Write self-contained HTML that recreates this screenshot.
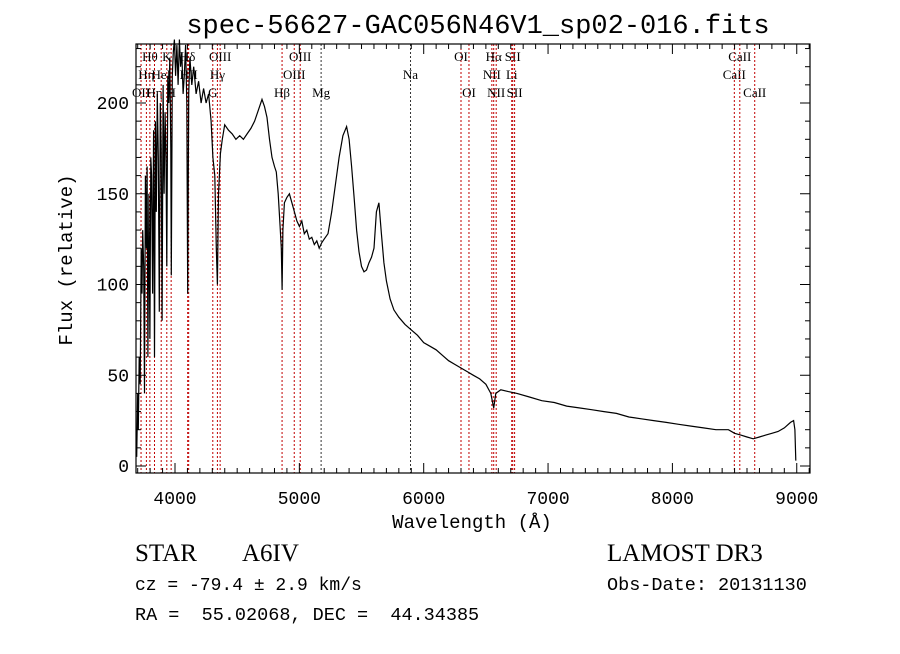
<!DOCTYPE html>
<html><head><meta charset="utf-8"><style>
body{margin:0;background:#fff;}
svg text{font-family:"Liberation Mono",monospace;fill:#000;}
.lab{font-family:"Liberation Serif",serif;font-size:13px;}
</style></head><body>
<svg id="chart" width="900" height="649" viewBox="0 0 900 649" xmlns="http://www.w3.org/2000/svg">
<rect width="900" height="649" fill="#fff"/>
<text x="478" y="33" font-size="27" text-anchor="middle">spec-56627-GAC056N46V1_sp02-016.fits</text>
<g id="lines"></g>
<g id="spec"></g>
<rect x="136" y="44" width="674" height="429" fill="none" stroke="#000" stroke-width="1.2"/>
<g id="axes"></g>
<text x="472" y="528" font-size="19" text-anchor="middle">Wavelength (Å)</text>
<text transform="translate(72,260) rotate(-90)" font-size="19" text-anchor="middle">Flux (relative)</text>
<text x="135" y="561" font-size="25" style="font-family:'Liberation Serif',serif">STAR</text>
<text x="242" y="561" font-size="25" style="font-family:'Liberation Serif',serif">A6IV</text>
<text x="607" y="561" font-size="25" style="font-family:'Liberation Serif',serif">LAMOST DR3</text>
<text x="135" y="590" font-size="18" xml:space="preserve">cz = -79.4 ± 2.9 km/s</text>
<text x="607" y="590" font-size="18.5">Obs-Date: 20131130</text>
<text x="135" y="620" font-size="18.5" xml:space="preserve">RA =  55.02068, DEC =  44.34385</text>
</svg>
<script>
const wave=[3692,3700,3705,3712,3720,3728,3735,3740,3748,3755,
3762,3770,3776,3782,3790,3798,3805,3812,3820,3828,
3835,3842,3850,3858,3866,3874,3882,3889,3896,3904,
3912,3920,3928,3934,3942,3950,3958,3966,3970,3978,
3986,3995,4005,4015,4025,4035,4045,4055,4065,4075,
4085,4095,4102,4110,4120,4135,4150,4170,4190,4210,
4230,4250,4270,4290,4305,4320,4332,4341,4350,4365,
4380,4400,4430,4460,4490,4520,4550,4580,4610,4640,
4670,4700,4720,4740,4760,4780,4800,4815,4830,4845,
4855,4861,4868,4880,4900,4920,4940,4960,4980,5000,
5020,5040,5060,5080,5100,5120,5140,5160,5180,5200,
5230,5260,5290,5320,5350,5380,5400,5420,5440,5460,
5480,5500,5520,5540,5560,5580,5600,5620,5640,5660,
5680,5700,5730,5760,5800,5850,5900,5950,6000,6050,
6100,6150,6200,6250,6300,6350,6400,6450,6500,6540,
6563,6580,6620,6680,6750,6850,6950,7050,7150,7250,
7350,7450,7550,7650,7750,7850,7950,8050,8150,8250,
8350,8450,8500,8550,8600,8650,8700,8750,8800,8850,
8900,8950,8975,8985,8992];
const flux=[5,40,20,60,45,120,95,130,110,40,
160,120,165,60,150,70,170,160,95,185,
60,190,140,205,170,85,200,175,80,210,
150,195,170,110,215,200,225,175,105,215,
228,235,215,232,210,235,220,228,205,215,
232,200,95,205,225,210,220,205,212,200,
208,200,205,190,170,160,120,100,150,172,
180,188,185,183,180,182,180,183,186,190,
196,202,198,192,180,170,165,162,150,132,
120,97,130,145,148,150,145,140,135,132,
135,128,130,125,126,122,124,120,123,125,
128,140,155,170,182,187,180,165,148,130,
118,110,107,108,112,115,120,140,145,128,
112,102,92,86,82,78,75,72,68,66,
64,61,58,56,54,52,50,48,45,40,
32,40,42,41,40,38,36,35,33,32,
31,30,29,27,26,25,24,23,22,21,
20,20,18,17,16,15,16,17,18,19,
21,24,25,20,3];
const tickVals=[4000,5000,6000,7000,8000,9000];
const yTickVals=[0,50,100,150,200];
const lineWaves=[3727,3770,3798,3835,3889,3934,3969,4102,4110,4304,4341,4363,4861,4959,5007,5175,5894,6300,6364,6548,6563,6583,6708,6716,6731,8498,8542,8662];
const lineNames=["OII","Hη","Hθ","Hη","HeI","K","H","Hδ","HII","G","Hγ","OIII","Hβ","OIII","OIII","Mg","Na","OI","OI","NII","Hα","NII","Li","SII","SII","CaII","CaII","CaII"];
const lineRows=[2,1,0,2,1,0,2,0,1,2,1,0,2,1,0,2,1,0,2,1,0,2,1,0,2,1,0,2];
const X=w=>175+(w-4000)*0.12435;
const Y=f=>466-f*1.815;
const NS="http://www.w3.org/2000/svg";
function mk(t,a,p){const e=document.createElementNS(NS,t);for(const k in a)e.setAttribute(k,a[k]);p.appendChild(e);return e;}
const lg=document.getElementById('lines');
lineWaves.forEach((w,i)=>{
 const dark=(lineNames[i]==="Na"||lineNames[i]==="Mg");
 const l=mk('line',{x1:X(w),x2:X(w),y1:44,y2:473,stroke:dark?'#333':'#c00000','stroke-width':1,'stroke-dasharray':'2,2'},lg);
 
 
 const t=mk('text',{x:X(w),y:61+lineRows[i]*18,class:'lab','text-anchor':'middle'},lg);
 t.textContent=lineNames[i];
 
 
});
const n=Math.min(wave.length,flux.length);
let d='';
for(let i=0;i<n;i++){d+=(i?'L':'M')+X(wave[i]).toFixed(1)+' '+Y(flux[i]).toFixed(1)+' ';}
const p=mk('path',{d:d,fill:'none',stroke:'#000','stroke-width':1.2},document.getElementById('spec'));


const ax=document.getElementById('axes');
for(let w=3700;w<=9100;w+=100){
 const major=w%1000===0;const len=major?10:5;
 mk('line',{x1:X(w),x2:X(w),y1:473,y2:473-len,stroke:'#000'},ax);
 mk('line',{x1:X(w),x2:X(w),y1:44,y2:44+len,stroke:'#000'},ax);
}
tickVals.forEach(v=>{const t=mk('text',{x:X(v),y:504,'font-size':18,'text-anchor':'middle'},ax);t.textContent=v;
 
 });
for(let f=0;f<=230;f+=10){const len=f%50===0?10:5;
 mk('line',{x1:136,x2:136+len,y1:Y(f),y2:Y(f),stroke:'#000'},ax);
 mk('line',{x1:810,x2:810-len,y1:Y(f),y2:Y(f),stroke:'#000'},ax);}
yTickVals.forEach(v=>{const t=mk('text',{x:129,y:Y(v)+6,'font-size':18,'text-anchor':'end'},ax);t.textContent=v;
 
 });
</script>
</body></html>
